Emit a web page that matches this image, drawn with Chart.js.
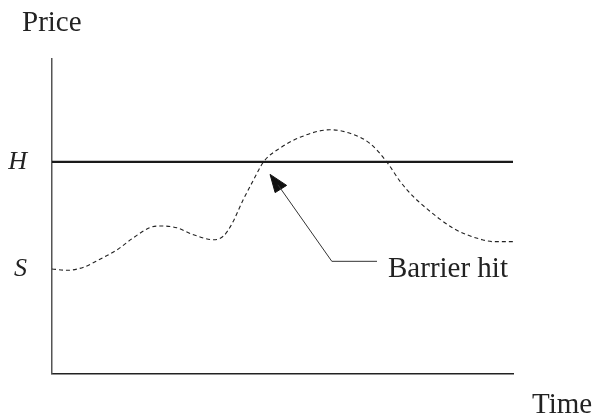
<!DOCTYPE html>
<html>
<head>
<meta charset="utf-8">
<script src="https://cdn.jsdelivr.net/npm/chart.js@4/dist/chart.umd.min.js"></script>
<style>
  html, body { margin: 0; padding: 0; background: #fff; }
  #wrap { width: 597px; height: 414px; }
</style>
</head>
<body>
<div id="wrap"><canvas id="c" width="597" height="414"></canvas></div>
<script>
// ---- data (time in arbitrary units 0..10, price in arbitrary units 0..100) ----
const pathTime  = [0, 0.33, 0.69, 1.05, 1.41, 1.77, 2.13, 2.35, 2.71, 3.07, 3.50, 3.72, 3.90, 4.15, 4.37, 4.59, 4.95, 5.38, 6.03, 6.54, 6.90, 7.26, 7.55, 7.84, 8.13, 8.42, 8.71, 9.00, 9.29, 9.57, 10];
const pathPrice = [33.2, 32.8, 33.8, 36.4, 39.3, 43.2, 46.4, 46.9, 46.3, 44.1, 42.5, 43.7, 47.5, 55.3, 61.5, 67.3, 71.7, 75.1, 77.5, 76.0, 73.1, 67.3, 61.1, 56.2, 52.4, 49.0, 46.1, 44.1, 42.7, 41.9, 41.9];
const barrierLevel = 67.3;   // H
const spotLevel = 33.2;      // S
const tickLabels = { S: spotLevel, H: barrierLevel };
const arrowLineTime  = [7.05, 6.07, 4.90];
const arrowLinePrice = [35.65, 35.65, 60.0];
const arrowHeadTime  = [4.73, 4.84, 5.09, 4.73];
const arrowHeadPrice = [63.3, 57.5, 59.8, 63.3];
const annotationText = 'Barrier hit';
const yAxisTitle = 'Price';
const xAxisTitle = 'Time';

const toPts = (xs, ys) => xs.map((x, i) => ({ x: x, y: ys[i] }));
const SERIF = '"Liberation Serif", "Times New Roman", serif';

const textPlugin = {
  id: 'texts',
  afterDraw(chart) {
    const ctx = chart.ctx;
    const xs = chart.scales.x, ys = chart.scales.y;
    ctx.save();
    ctx.fillStyle = '#222';
    ctx.font = '29px ' + SERIF;
    ctx.textBaseline = 'alphabetic';
    ctx.textAlign = 'left';
    ctx.fillText(yAxisTitle, 22, 31);
    ctx.fillText(xAxisTitle, xs.right + 19, 413);
    const ax = xs.getPixelForValue(arrowLineTime[0]);
    const ay = ys.getPixelForValue(arrowLinePrice[0]);
    ctx.fillText(annotationText, ax + 11, ay + 16);
    ctx.restore();
  }
};

new Chart(document.getElementById('c'), {
  type: 'scatter',
  data: {
    datasets: [
      {
        data: toPts([0, 10], [barrierLevel, barrierLevel]),
        showLine: true, borderColor: '#1a1a1a', borderWidth: 2.2, pointRadius: 0
      },
      {
        data: toPts(pathTime, pathPrice),
        showLine: true, borderColor: '#222', borderWidth: 1.1, borderDash: [4, 3],
        cubicInterpolationMode: 'monotone', pointRadius: 0
      },
      {
        data: toPts(arrowLineTime, arrowLinePrice),
        showLine: true, borderColor: '#333', borderWidth: 1, pointRadius: 0
      },
      {
        data: toPts(arrowHeadTime, arrowHeadPrice),
        showLine: true, borderColor: '#111', borderWidth: 1, backgroundColor: '#111',
        fill: 'shape', pointRadius: 0
      }
    ]
  },
  options: {
    responsive: false,
    animation: false,
    events: [],
    layout: { padding: { left: 0, right: 84, top: 59, bottom: 10 } },
    plugins: { legend: { display: false }, tooltip: { enabled: false }, title: { display: false } },
    scales: {
      x: {
        type: 'linear', min: 0, max: 10,
        grid: { display: false, drawTicks: false },
        border: { display: true, color: '#222', width: 1.5 },
        ticks: { display: false },
        afterFit: s => { s.height = 0; }
      },
      y: {
        type: 'linear', min: 0, max: 100,
        grid: { display: false, drawTicks: false },
        border: { display: true, color: '#555', width: 1.5 },
        afterBuildTicks: s => { s.ticks = Object.values(tickLabels).map(v => ({ value: v })); },
        afterFit: s => { s.width = 52; },
        ticks: {
          padding: 25,
          color: '#222',
          font: { family: SERIF, size: 26, style: 'italic' },
          callback: v => Object.keys(tickLabels).find(k => tickLabels[k] === v) || ''
        }
      }
    }
  },
  plugins: [textPlugin]
});
</script>
</body>
</html>
